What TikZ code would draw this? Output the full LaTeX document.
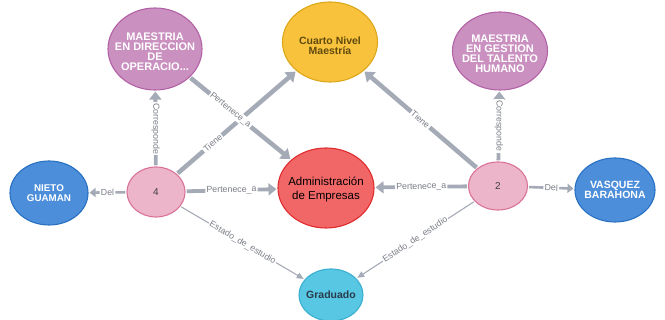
\documentclass[tikz,border=0pt]{standalone}
\usepackage{fontspec}
\setmainfont{Liberation Sans}
\usetikzlibrary{shapes.geometric,arrows.meta}
\definecolor{cpurple}{HTML}{C990C0}
\definecolor{cpurpleb}{HTML}{B261A5}
\definecolor{cyellow}{HTML}{F9C23C}
\definecolor{cyellowb}{HTML}{DCA719}
\definecolor{cyellowt}{HTML}{604A0E}
\definecolor{cred}{HTML}{F16667}
\definecolor{credb}{HTML}{E02B2C}
\definecolor{cpink}{HTML}{ECB5C9}
\definecolor{cpinkb}{HTML}{DA7298}
\definecolor{cblue}{HTML}{4C8EDA}
\definecolor{cblueb}{HTML}{2870C2}
\definecolor{ccyan}{HTML}{57C7E3}
\definecolor{ccyanb}{HTML}{3AAFCF}
\definecolor{ccyant}{HTML}{2A3A4A}
\definecolor{cedge}{HTML}{A5ABB6}
\definecolor{clabel}{HTML}{7A7E86}
\begin{document}
\begin{tikzpicture}[x=1pt,y=-1pt,
  nd/.style={ellipse, draw, line width=1.1pt, inner sep=0pt},
  tx/.style={align=center, inner sep=0pt},
  capw/.style={tx, text=white, font=\bfseries\fontsize{11}{10}\selectfont},
  edgebase/.style={draw=cedge, shorten <=1pt, shorten >=1pt},
  ethick/.style={edgebase, line width=4.5pt, -{Triangle[width=13pt,length=9pt]}},
  emid/.style={edgebase, line width=3.8pt, -{Triangle[width=12pt,length=8pt]}},
  edel/.style={edgebase, line width=2.6pt, -{Triangle[width=9pt,length=6pt]}},
  ethin/.style={edgebase, line width=1.1pt, -{Triangle[width=6pt,length=7pt]}},
  lbl/.style={fill=white, inner sep=1.2pt, text=clabel, font=\fontsize{8.8}{8.8}\selectfont},
]
\useasboundingbox (0,0) rectangle (665,320);

% shapes
\node[nd, fill=cpurple, draw=cpurpleb, minimum width=94pt, minimum height=82pt] (mdo) at (155,49) {};
\node[nd, fill=cyellow, draw=cyellowb, minimum width=95pt, minimum height=80pt] (cnm) at (330,42) {};
\node[nd, fill=cpurple, draw=cpurpleb, minimum width=95pt, minimum height=78pt] (mgt) at (500,51) {};
\node[nd, fill=cblue, draw=cblueb, minimum width=78pt, minimum height=64pt] (ng) at (49,193) {};
\node[nd, fill=cpink, draw=cpinkb, minimum width=58pt, minimum height=50pt] (n4) at (156,192) {};
\node[nd, fill=cred, draw=credb, minimum width=96pt, minimum height=80pt] (adm) at (326,188) {};
\node[nd, fill=cpink, draw=cpinkb, minimum width=59pt, minimum height=48pt] (n2) at (498,186) {};
\node[nd, fill=cblue, draw=cblueb, minimum width=80pt, minimum height=64pt] (vb) at (615,190) {};
\node[nd, fill=ccyan, draw=ccyanb, minimum width=64pt, minimum height=52pt] (grad) at (331,295) {};

% texts
\node[capw] (mdoT) at (155,52) {MAESTRIA\\EN DIRECCION\\DE\\OPERACIO...};
\node[capw] (mgtT) at (500,54) {MAESTRIA\\EN GESTION\\DEL TALENTO\\HUMANO};
\node[tx, text=cyellowt, font=\bfseries\fontsize{10.5}{10.5}\selectfont] (cnmT) at (330,46) {Cuarto Nivel\\Maestría};
\node[capw, font=\bfseries\fontsize{9.8}{9.5}\selectfont] (ngT) at (49,193) {NIETO\\GUAMAN};
\node[capw, font=\bfseries\fontsize{10.5}{10}\selectfont] (vbT) at (615,190) {VASQUEZ\\BARAHONA};
\node[tx, text=black, font=\fontsize{11.5}{14}\selectfont] (admT) at (326,189) {Administración\\de Empresas};
\node[tx, text=ccyant, font=\bfseries\fontsize{10.5}{10.5}\selectfont] (gradT) at (331,295) {Graduado};
\node[tx, text=black!75, font=\fontsize{10}{10}\selectfont] (n4T) at (156,192) {4};
\node[tx, text=black!75, font=\fontsize{10}{10}\selectfont] (n2T) at (498,186) {2};

% edges
\draw[emid] (n4) -- node[lbl, midway, rotate=-90] {Corresponde} (mdo);
\draw[emid] (n2) -- node[lbl, midway, rotate=-90] {Corresponde} (mgt);
\draw[ethick] (n4) -- node[lbl, pos=0.3, sloped] {Tiene} (cnm);
\draw[ethick] (mdo) -- node[lbl, pos=0.4, sloped] {Pertenece\_a} (adm);
\draw[ethick] (n2) -- node[lbl, midway, sloped] {Tiene} (cnm);
\draw[emid] (n4) -- node[lbl, midway, sloped] {Pertenece\_a} (adm);
\draw[emid] (n2) -- node[lbl, midway, sloped] {Pertenece\_a} (adm);
\draw[edel] (n4) -- node[lbl, midway, sloped] {Del} (ng);
\draw[edel] (n2) -- node[lbl, midway, sloped] {Del} (vb);
\draw[ethin] (n4) -- node[lbl, midway, sloped] {Estado\_de\_estudio} (grad);
\draw[ethin] (n2) -- node[lbl, midway, sloped] {Estado\_de\_estudio} (grad);
\end{tikzpicture}
\end{document}
